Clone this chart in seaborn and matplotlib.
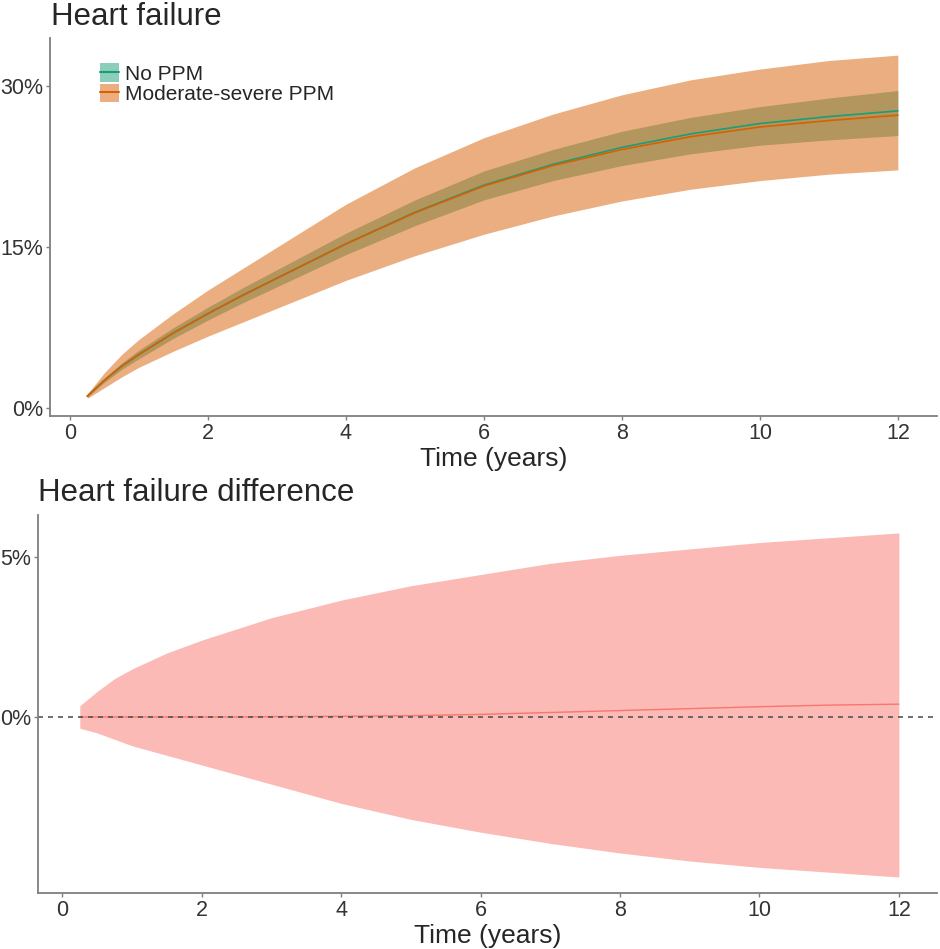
import matplotlib
matplotlib.use("Agg")
import matplotlib.pyplot as plt
from matplotlib.patches import Patch
from matplotlib.lines import Line2D
import pandas as pd
import seaborn as sns

# data (percent)
time = [0.25, 0.5, 0.75, 1, 1.5, 2, 2.5, 3, 4, 5, 6, 7, 8, 9, 10, 11, 12]

mod_mean = [1.1, 2.6, 3.9, 5.0, 7.0, 8.8, 10.5, 12.1, 15.3, 18.2, 20.7, 22.6, 24.1, 25.3, 26.2, 26.8, 27.3]
mod_lo = [0.9, 1.9, 2.9, 3.8, 5.3, 6.7, 8.0, 9.3, 11.9, 14.2, 16.2, 17.9, 19.3, 20.4, 21.2, 21.8, 22.2]
mod_hi = [1.3, 3.3, 5.0, 6.4, 8.8, 11.0, 13.0, 15.0, 19.0, 22.4, 25.2, 27.4, 29.2, 30.6, 31.6, 32.4, 32.9]

no_mean = [1.1, 2.6, 3.9, 5.0, 7.0, 8.8, 10.5, 12.1, 15.3, 18.25, 20.78, 22.72, 24.3, 25.56, 26.52, 27.17, 27.7]
no_lo = [1.0, 2.4, 3.6, 4.6, 6.5, 8.2, 9.8, 11.3, 14.3, 17.0, 19.4, 21.2, 22.6, 23.7, 24.5, 25.0, 25.4]
no_hi = [1.2, 2.8, 4.2, 5.4, 7.5, 9.4, 11.2, 12.9, 16.3, 19.4, 22.1, 24.1, 25.8, 27.1, 28.1, 28.9, 29.6]

diff_mean = [0.0, 0.0, 0.0, 0.0, 0.0, 0.0, 0.0, 0.01, 0.02, 0.04, 0.08, 0.14, 0.2, 0.26, 0.32, 0.37, 0.4]
diff_lo = [-0.35, -0.5, -0.7, -0.9, -1.2, -1.5, -1.8, -2.1, -2.7, -3.2, -3.6, -3.95, -4.25, -4.5, -4.7, -4.85, -5.0]
diff_hi = [0.35, 0.8, 1.2, 1.5, 2.0, 2.4, 2.75, 3.1, 3.65, 4.1, 4.45, 4.8, 5.05, 5.25, 5.45, 5.6, 5.75]

groups = ["No PPM", "Moderate-severe PPM"]
colors = {"No PPM": "#1B9E77", "Moderate-severe PPM": "#D95F02"}
diff_color = "#F8766D"

sns.set_theme(style="white")
plt.rcParams["font.family"] = ["Liberation Sans", "DejaVu Sans"]

df = pd.DataFrame({
    "time": time * 2,
    "risk": no_mean + mod_mean,
    "group": [groups[0]] * len(time) + [groups[1]] * len(time),
})

fig = plt.figure(figsize=(9.4, 9.49), dpi=100)
ax1 = fig.add_axes([0.0532, 0.5616, 0.9438, 0.3984])
ax2 = fig.add_axes([0.0404, 0.059, 0.9566, 0.398])

# top panel: ribbons then lines
ax1.fill_between(time, no_lo, no_hi, color=colors["No PPM"], alpha=0.5, linewidth=0)
ax1.fill_between(time, mod_lo, mod_hi, color=colors["Moderate-severe PPM"], alpha=0.5, linewidth=0)
sns.lineplot(data=df, x="time", y="risk", hue="group", hue_order=groups,
             palette=colors, linewidth=1.2, ax=ax1, legend=False)

ax1.set_xlim(-0.29, 12.57)
ax1.set_ylim(-0.75, 34.5)
ax1.set_xticks([0, 2, 4, 6, 8, 10, 12])
ax1.set_yticks([0, 15, 30])
ax1.set_yticklabels(["0%", "15%", "30%"])
ax1.set_xlabel("Time (years)", fontsize=19, labelpad=2)
ax1.set_ylabel("")

handles = []
for g in groups:
    handles.append((Patch(facecolor=colors[g], alpha=0.5, edgecolor="none"),
                    Line2D([], [], color=colors[g], linewidth=1.5)))
ax1.legend(handles, groups, loc="upper left", bbox_to_anchor=(0.047, 0.955),
           frameon=False, fontsize=15, handlelength=0.9, handleheight=1.0,
           handletextpad=0.3, labelspacing=0.0, borderaxespad=0)

# bottom panel: difference
ax2.fill_between(time, diff_lo, diff_hi, color=diff_color, alpha=0.5, linewidth=0)
sns.lineplot(x=time, y=diff_mean, color=diff_color, linewidth=1.0, ax=ax2)
ax2.axhline(0, color="#555555", linestyle=(0, (3, 3)), linewidth=1.2)

ax2.set_xlim(-0.35, 12.55)
ax2.set_ylim(-5.5, 6.3)
ax2.set_xticks([0, 2, 4, 6, 8, 10, 12])
ax2.set_yticks([0, 5])
ax2.set_yticklabels(["0%", "5%"])
ax2.set_xlabel("Time (years)", fontsize=19, labelpad=2)
ax2.set_ylabel("")

for ax in (ax1, ax2):
    sns.despine(ax=ax)
    for s in ("left", "bottom"):
        ax.spines[s].set_color("#7F7F7F")
        ax.spines[s].set_linewidth(1.3)
    ax.tick_params(axis="both", which="both", length=3, width=1, color="#7F7F7F",
                   labelsize=15.5, labelcolor="#333333", pad=2, left=True, bottom=True)

fig.text(0.054, 0.982, "Heart failure", fontsize=22.5, va="center", ha="left")
fig.text(0.040, 0.480, "Heart failure difference", fontsize=22.5, va="center", ha="left")

fig.savefig("out.png", dpi=100)
